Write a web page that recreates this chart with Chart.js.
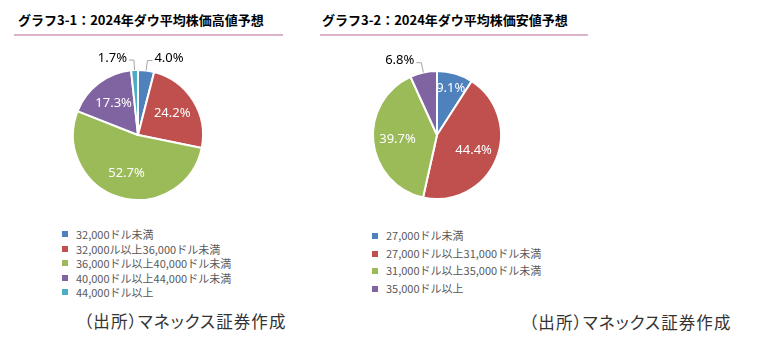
<!DOCTYPE html>
<html>
<head>
<meta charset="utf-8">
<script src="https://cdn.jsdelivr.net/npm/chart.js@4/dist/chart.umd.min.js"></script>
<style>
  body { margin: 0; width: 772px; height: 361px; background: #fff; position: relative; overflow: hidden; font-family: "Noto Sans CJK JP", sans-serif; }
  .title { position: absolute; top: 10px; font-size: 13px; font-weight: bold; color: #000; white-space: nowrap; }
  .rule { position: absolute; top: 34px; height: 2px; background: #dbb3cb; }
  canvas { position: absolute; }
  .legend { position: absolute; font-size: 11px; color: #595959; white-space: nowrap; }
  .legend div { position: relative; padding-left: 14px; }
  .legend span { position: absolute; left: 0; top: 50%; width: 6px; height: 6px; margin-top: -3px; }
  .source { position: absolute; font-size: 16.5px; color: #333; white-space: nowrap; font-feature-settings: "palt"; letter-spacing: 1.1px; }
</style>
</head>
<body>
<div class="title" style="left:18px">グラフ3-1：2024年ダウ平均株価高値予想</div>
<div class="rule" style="left:14px;width:269px"></div>
<div class="title" style="left:322px">グラフ3-2：2024年ダウ平均株価安値予想</div>
<div class="rule" style="left:320px;width:268px"></div>

<canvas id="pieHigh" width="200" height="170" style="left:38px;top:50px"></canvas>
<canvas id="pieLow" width="200" height="170" style="left:337px;top:50px"></canvas>

<div class="legend" id="legendHigh" style="left:62px;top:227px;line-height:14.5px"></div>
<div class="legend" id="legendLow" style="left:372px;top:227px;line-height:17.7px"></div>

<div class="source" style="left:84px;top:309px">（出所）マネックス証券作成</div>
<div class="source" style="left:529px;top:310px">（出所）マネックス証券作成</div>

<script>
// グラフ3-1 高値予想
var highLabels = ['32,000ドル未満', '32,000ル以上36,000ドル未満', '36,000ドル以上40,000ドル未満', '40,000ドル以上44,000ドル未満', '44,000ドル以上'];
var highValues = [4.0, 24.2, 52.7, 17.3, 1.7];
var highColors = ['#4f81bd', '#c0504d', '#9bbb59', '#8064a2', '#4bacc6'];

// グラフ3-2 安値予想
var lowLabels = ['27,000ドル未満', '27,000ドル以上31,000ドル未満', '31,000ドル以上35,000ドル未満', '35,000ドル以上'];
var lowValues = [9.1, 44.4, 39.7, 6.8];
var lowColors = ['#4f81bd', '#c0504d', '#9bbb59', '#8064a2'];

// draw % labels: big slices inside in white, small ones outside with a leader line
var pctLabels = {
    id: 'pctLabels',
    afterDatasetsDraw(chart) {
        var ctx = chart.ctx;
        var meta = chart.getDatasetMeta(0);
        var values = chart.data.datasets[0].data;
        ctx.save();
        ctx.font = '13px "Noto Sans"';
        ctx.textBaseline = 'middle';
        meta.data.forEach(function (arc, i) {
            var p = arc.getProps(['x', 'y', 'startAngle', 'endAngle', 'outerRadius'], true);
            var mid = (p.startAngle + p.endAngle) / 2;
            var cos = Math.cos(mid), sin = Math.sin(mid);
            var txt = values[i].toFixed(1) + '%';
            if (values[i] >= 8) {
                var f = values[i] < 15 ? 0.76 : 0.62;
                ctx.fillStyle = '#fff';
                ctx.textAlign = 'center';
                ctx.fillText(txt, p.x + cos * p.outerRadius * f, p.y + sin * p.outerRadius * f);
            } else {
                var r = p.outerRadius;
                var ex = p.x + cos * r, ey = p.y + sin * r;
                var bx = p.x + cos * (r + 10), by = p.y + sin * (r + 10);
                var right = cos >= 0;
                var hx = bx + (right ? 5 : -5);
                ctx.strokeStyle = '#a6a6a6';
                ctx.lineWidth = 1;
                ctx.beginPath();
                ctx.moveTo(ex, ey);
                ctx.lineTo(bx, by);
                ctx.lineTo(hx, by);
                ctx.stroke();
                ctx.fillStyle = '#000';
                ctx.textAlign = right ? 'left' : 'right';
                ctx.fillText(txt, hx + (right ? 2 : -2), by - 2);
            }
        });
        ctx.restore();
    }
};

function doPie(id, labels, values, colors, pad) {
    var canvas = document.getElementById(id);
    return new Chart(canvas.getContext('2d'), {
        type: 'pie',
        data: {
            labels: labels,
            datasets: [{
                data: values,
                backgroundColor: colors,
                borderColor: '#fff',
                borderWidth: 2
            }]
        },
        options: {
            responsive: false,
            animation: false,
            layout: { padding: pad },
            plugins: {
                legend: { display: false },
                tooltip: { enabled: false }
            }
        },
        plugins: [pctLabels]
    });
}

function doLegend(id, labels, colors) {
    var el = document.getElementById(id);
    labels.forEach(function (lab, i) {
        var row = document.createElement('div');
        var box = document.createElement('span');
        box.style.background = colors[i];
        row.appendChild(box);
        row.appendChild(document.createTextNode(lab));
        el.appendChild(row);
    });
}

doPie('pieHigh', highLabels, highValues, highColors, 19);
doPie('pieLow', lowLabels, lowValues, lowColors, 20);
doLegend('legendHigh', highLabels, highColors);
doLegend('legendLow', lowLabels, lowColors);
</script>
</body>
</html>
